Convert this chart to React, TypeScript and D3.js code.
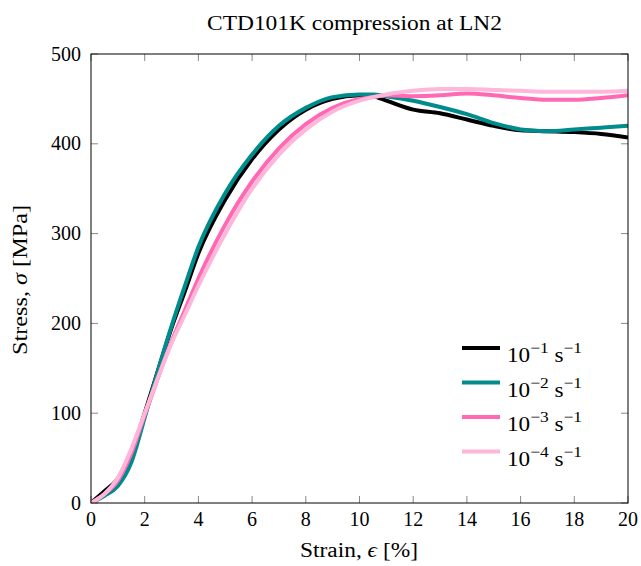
import React from "react";
import * as d3 from "d3";

const strain = [0, 0.5, 1, 1.5, 2, 2.5, 3, 3.5, 4, 5, 6, 7, 8, 9, 10, 10.5, 11, 12, 13, 14, 15, 16, 17, 18, 19, 20];
const s1 = [0, 13, 27, 55, 100, 148, 195, 236, 278, 338, 383, 416, 438, 450, 454, 453, 448, 438, 434, 427, 420, 415, 414, 413, 411, 407];
const s2 = [0, 8, 19, 45, 95, 148, 197, 242, 285, 345, 388, 420, 440, 452, 455, 455, 453, 448, 441, 433, 423, 416, 414, 416, 418, 420];
const s3 = [0, 10, 25, 55, 98, 140, 180, 215, 250, 310, 358, 395, 422, 440, 450, 452, 454, 453, 454, 456, 454, 451, 449, 449, 451, 454];
const s4 = [0, 10, 28, 60, 100, 140, 178, 210, 242, 300, 350, 388, 416, 436, 448, 452, 455, 459, 461, 461, 460, 459, 458, 458, 458, 459];

const seriesNames = ["-1", "-2", "-3", "-4"];
const seriesColors = ["#000000", "#008c8c", "#ff69b4", "#ffb6d9"];
const seriesValues = [s1, s2, s3, s4];

const xTicks = [0, 2, 4, 6, 8, 10, 12, 14, 16, 18, 20];
const yTicks = [0, 100, 200, 300, 400, 500];

const W = 641, H = 566;
const L = 91, R = 628, T = 54, B = 503;
const font = "'Liberation Serif', serif";

export default function App() {
  const x = d3.scaleLinear().domain([0, 20]).range([L, R]);
  const y = d3.scaleLinear().domain([0, 500]).range([B, T]);
  const line = d3.line<[number, number]>().x(d => x(d[0])).y(d => y(d[1])).curve(d3.curveMonotoneX);
  const tl = 7;
  return (
    <svg width={W} height={H} style={{ position: "absolute", left: 0, top: 0 }} fontFamily={font}>
      <rect width={W} height={H} fill="#fff" />
      <defs>
        <clipPath id="clip"><rect x={L} y={T} width={R - L} height={B - T} /></clipPath>
      </defs>
      <text x={207} y={30} fontSize={20} textLength={295} lengthAdjust="spacingAndGlyphs">CTD101K compression at LN2</text>
      {xTicks.map(t => (
        <g key={"x" + t}>
          <line x1={x(t)} x2={x(t)} y1={B} y2={B - tl} stroke="#888" strokeWidth={1} />
          <line x1={x(t)} x2={x(t)} y1={T} y2={T + tl} stroke="#888" strokeWidth={1} />
          <text x={x(t)} y={B + 23} textAnchor="middle" fontSize={20}>{t}</text>
        </g>
      ))}
      {yTicks.map(t => (
        <g key={"y" + t}>
          <line x1={L} x2={L + tl} y1={y(t)} y2={y(t)} stroke="#888" strokeWidth={1} />
          <line x1={R} x2={R - tl} y1={y(t)} y2={y(t)} stroke="#888" strokeWidth={1} />
          <text x={L - 10} y={y(t) + 6.5} textAnchor="end" fontSize={20}>{t}</text>
        </g>
      ))}
      <g clipPath="url(#clip)">
        {seriesValues.map((vals, i) => (
          <path key={i} d={line(strain.map((s, j) => [s, vals[j]] as [number, number])) || ""}
            fill="none" stroke={seriesColors[i]} strokeWidth={4} strokeLinejoin="round" />
        ))}
      </g>
      <rect x={L} y={T} width={R - L} height={B - T} fill="none" stroke="#000" strokeWidth={1} />
      <text x={300} y={557} fontSize={20} textLength={118} lengthAdjust="spacingAndGlyphs">
        Strain, <tspan fontStyle="italic">ϵ</tspan> [%]
      </text>
      <text transform={`translate(27, 355) rotate(-90)`} fontSize={20} textLength={150} lengthAdjust="spacingAndGlyphs">
        Stress, <tspan fontStyle="italic">σ</tspan> [MPa]
      </text>
      {seriesNames.map((n, i) => {
        const ly = 348 + i * 34.5;
        return (
          <g key={"l" + i}>
            <line x1={462} x2={500} y1={ly} y2={ly} stroke={seriesColors[i]} strokeWidth={4} />
            <text x={507} y={ly + 14} fontSize={20} textLength={75} lengthAdjust="spacingAndGlyphs">
              10<tspan dy={-9} fontSize={15}>{"\u2212" + n.slice(1)}</tspan>
              <tspan dy={9}> s</tspan>
              <tspan dy={-9} fontSize={15}>{"\u22121"}</tspan>
            </text>
          </g>
        );
      })}
    </svg>
  );
}
